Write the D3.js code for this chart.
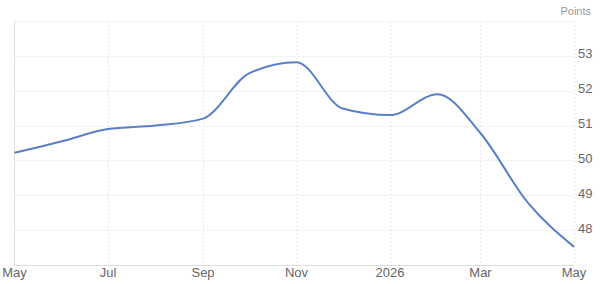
<!DOCTYPE html>
<html>
<head>
<meta charset="utf-8">
<script src="https://cdn.jsdelivr.net/npm/d3@7"></script>
<style>
  body { margin: 0; background: #fff; }
  svg { display: block; font-family: "Liberation Sans", Arial, sans-serif; }
</style>
</head>
<body>
<svg id="chart" width="600" height="284"></svg>
<script>
// monthly readings, May 2025 .. May 2026
const months = ['2025-05-01', '2025-06-01', '2025-07-01', '2025-08-01', '2025-09-01', '2025-10-01',
  '2025-11-01', '2025-12-01', '2026-01-01', '2026-02-01', '2026-03-01', '2026-04-01', '2026-05-01']
const values = [50.22, 50.55, 50.9, 51.0, 51.2, 52.5, 52.82, 51.49, 51.3, 51.9, 50.78, 48.78, 47.52]

const xTicks = ['2025-05-01', '2025-07-01', '2025-09-01', '2025-11-01', '2026-01-01', '2026-03-01', '2026-05-01']
const xTickLabels = ['May', 'Jul', 'Sep', 'Nov', '2026', 'Mar', 'May']
const yTicks = [48, 49, 50, 51, 52, 53]
const yGrid = [48, 49, 50, 51, 52, 53, 54]
const unitLabel = 'Points'

const parse = d3.utcParse('%Y-%m-%d')
const data = months.map((m, i) => ({ date: parse(m), value: values[i] }))

const svg = d3.select('#chart')
const plotLeft = 14.5, plotRight = 574, plotTop = 21, plotBottom = 265

const xScale = d3.scaleUtc()
  .domain([parse('2025-05-01'), parse('2026-05-01')])
  .range([plotLeft, plotRight])
const yScale = d3.scaleLinear().domain([47, 54]).range([plotBottom, plotTop])

// horizontal grid
svg.append('g')
  .selectAll('line')
  .data(yGrid)
  .enter()
  .append('line')
  .attr('x1', plotLeft).attr('x2', plotRight)
  .attr('y1', d => Math.round(yScale(d)) + 0.5)
  .attr('y2', d => Math.round(yScale(d)) + 0.5)
  .attr('stroke', '#e8e8e8')
  .attr('stroke-dasharray', '2,2')

// vertical grid
svg.append('g')
  .selectAll('line')
  .data(xTicks.slice(1))
  .enter()
  .append('line')
  .attr('x1', d => Math.round(xScale(parse(d))) + 0.5)
  .attr('x2', d => Math.round(xScale(parse(d))) + 0.5)
  .attr('y1', plotTop).attr('y2', plotBottom)
  .attr('stroke', '#e8e8e8')
  .attr('stroke-dasharray', '2,2')

// axis lines
svg.append('line')
  .attr('x1', plotLeft).attr('x2', plotLeft)
  .attr('y1', plotTop).attr('y2', plotBottom + 0.5)
  .attr('stroke', '#dcdcdc')
svg.append('line')
  .attr('x1', plotLeft).attr('x2', plotRight)
  .attr('y1', plotBottom + 0.5).attr('y2', plotBottom + 0.5)
  .attr('stroke', '#dcdcdc')

// x labels
svg.append('g')
  .selectAll('text')
  .data(xTicks)
  .enter()
  .append('text')
  .attr('x', d => xScale(parse(d)))
  .attr('y', 276.5)
  .attr('text-anchor', 'middle')
  .attr('font-size', '13px')
  .attr('fill', '#666')
  .text((d, i) => xTickLabels[i])

// y labels
svg.append('g')
  .selectAll('text')
  .data(yTicks)
  .enter()
  .append('text')
  .attr('x', 578)
  .attr('y', d => yScale(d) + 2.5)
  .attr('font-size', '13px')
  .attr('fill', '#666')
  .text(d => d)

svg.append('text')
  .attr('x', 591)
  .attr('y', 15)
  .attr('text-anchor', 'end')
  .attr('font-size', '11px')
  .attr('fill', '#999')
  .text(unitLabel)

// series
const line = d3.line()
  .x(d => xScale(d.date))
  .y(d => yScale(d.value))
  .curve(d3.curveMonotoneX)

svg.append('path')
  .datum(data)
  .attr('d', line)
  .attr('fill', 'none')
  .attr('stroke', '#5b7fc6')
  .attr('stroke-width', 2)
</script>
</body>
</html>
